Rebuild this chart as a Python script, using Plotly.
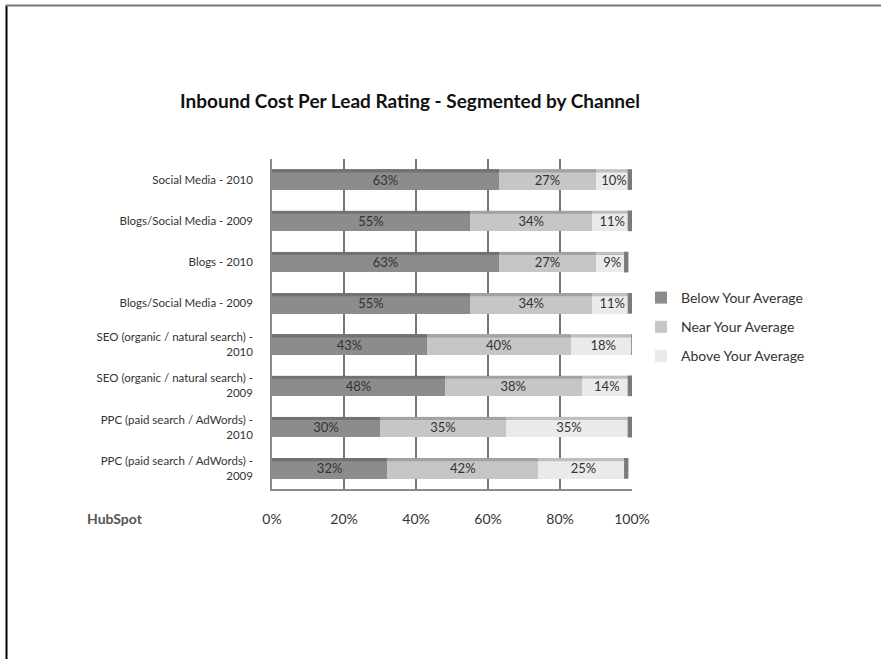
import plotly.graph_objects as go

categories = [
    "Social Media - 2010",
    "Blogs/Social Media - 2009",
    "Blogs - 2010",
    "Blogs/Social Media - 2009",
    "SEO (organic / natural search) -<br>2010",
    "SEO (organic / natural search) -<br>2009",
    "PPC (paid search / AdWords) -<br>2010",
    "PPC (paid search / AdWords) -<br>2009",
]
below = [63, 55, 63, 55, 43, 48, 30, 32]
near = [27, 34, 27, 34, 40, 38, 35, 42]
above = [10, 11, 9, 11, 18, 14, 35, 25]
series_names = ["Below Your Average", "Near Your Average", "Above Your Average"]
x_ticks = [0, 20, 40, 60, 80, 100]
x_tick_labels = ["0%", "20%", "40%", "60%", "80%", "100%"]

colors = ["#8c8c8c", "#c6c6c6", "#eaeaea"]
FONT = "Lato, Carlito, sans-serif"
positions = list(range(len(categories)))
BARGAP = 0.5

fig = go.Figure()
for name, vals, col in zip(series_names, [below, near, above], colors):
    fig.add_trace(go.Bar(
        y=positions, x=vals, orientation="h", name=name,
        marker=dict(color=col, line=dict(width=0)),
        text=[f"{v}%" for v in vals], textposition="inside",
        insidetextanchor="middle", constraintext="none",
        textfont=dict(family=FONT, size=13, color="#333333"),
        legendgroup=name, hoverinfo="skip",
    ))

# plot area pixel geometry
L, R, T, B = 272, 632, 159, 489
W, H = 881, 659
def px(x):
    return (x - L) / (R - L)
def py(y):
    return (B - y) / (B - T)

shapes = [
    dict(type="line", xref="paper", yref="paper", x0=px(6.5), x1=px(6.5),
         y0=py(5), y1=py(H), line=dict(color="#000000", width=2)),
    dict(type="line", xref="paper", yref="paper", x0=px(6), x1=px(881),
         y0=py(5.5), y1=py(5.5), line=dict(color="#777777", width=2)),
]
# 3D-like top edge and right side face of each stacked bar
half = (1 - BARGAP) / 2
for p, a, b, c in zip(positions, below, near, above):
    total = a + b + c
    shapes.append(dict(type="rect", xref="x", yref="y", layer="above",
                       x0=0, x1=total, y0=p - half, y1=p - half + 0.08,
                       fillcolor="rgba(0,0,0,0.18)", line=dict(width=0)))
    shapes.append(dict(type="rect", xref="x", yref="y", layer="above",
                       x0=total - 1.2, x1=total, y0=p - half, y1=p + half,
                       fillcolor="#7a7a7a", line=dict(width=0)))

fig.update_layout(
    width=W, height=H,
    margin=dict(l=L, r=W - R, t=T, b=H - B),
    paper_bgcolor="white", plot_bgcolor="white",
    barmode="stack", bargap=BARGAP,
    title=dict(text="<b>Inbound Cost Per Lead Rating - Segmented by Channel</b>",
               x=410 / W, xanchor="center", y=1 - 101 / H, yanchor="middle",
               font=dict(family=FONT, size=19, color="#111111")),
    legend=dict(x=px(641), xanchor="left", y=py(282), yanchor="top",
                font=dict(family=FONT, size=14, color="#333333"),
                traceorder="grouped", tracegroupgap=8, itemwidth=30,
                bgcolor="rgba(0,0,0,0)"),
    xaxis=dict(range=[0, 100], tickvals=x_ticks, ticktext=x_tick_labels,
               showgrid=True, gridcolor="#767676", gridwidth=1.5,
               showline=True, linecolor="#8a8a8a", linewidth=1.5,
               zeroline=False, ticks="", ticklabelstandoff=16,
               tickfont=dict(family=FONT, size=14, color="#333333")),
    yaxis=dict(tickvals=positions, ticktext=categories, autorange="reversed",
               showgrid=False, zeroline=False,
               showline=True, linecolor="#8a8a8a", linewidth=1.5,
               ticks="", ticklabelstandoff=15,
               tickfont=dict(family=FONT, size=11.5, color="#333333")),
    showlegend=True,
    annotations=[dict(text="<b>HubSpot</b>", x=px(85), xanchor="left", y=py(518),
                      yanchor="middle", xref="paper", yref="paper", showarrow=False,
                      font=dict(family=FONT, size=14, color="#555555"))],
    shapes=shapes,
)

fig.write_html("out.html")
